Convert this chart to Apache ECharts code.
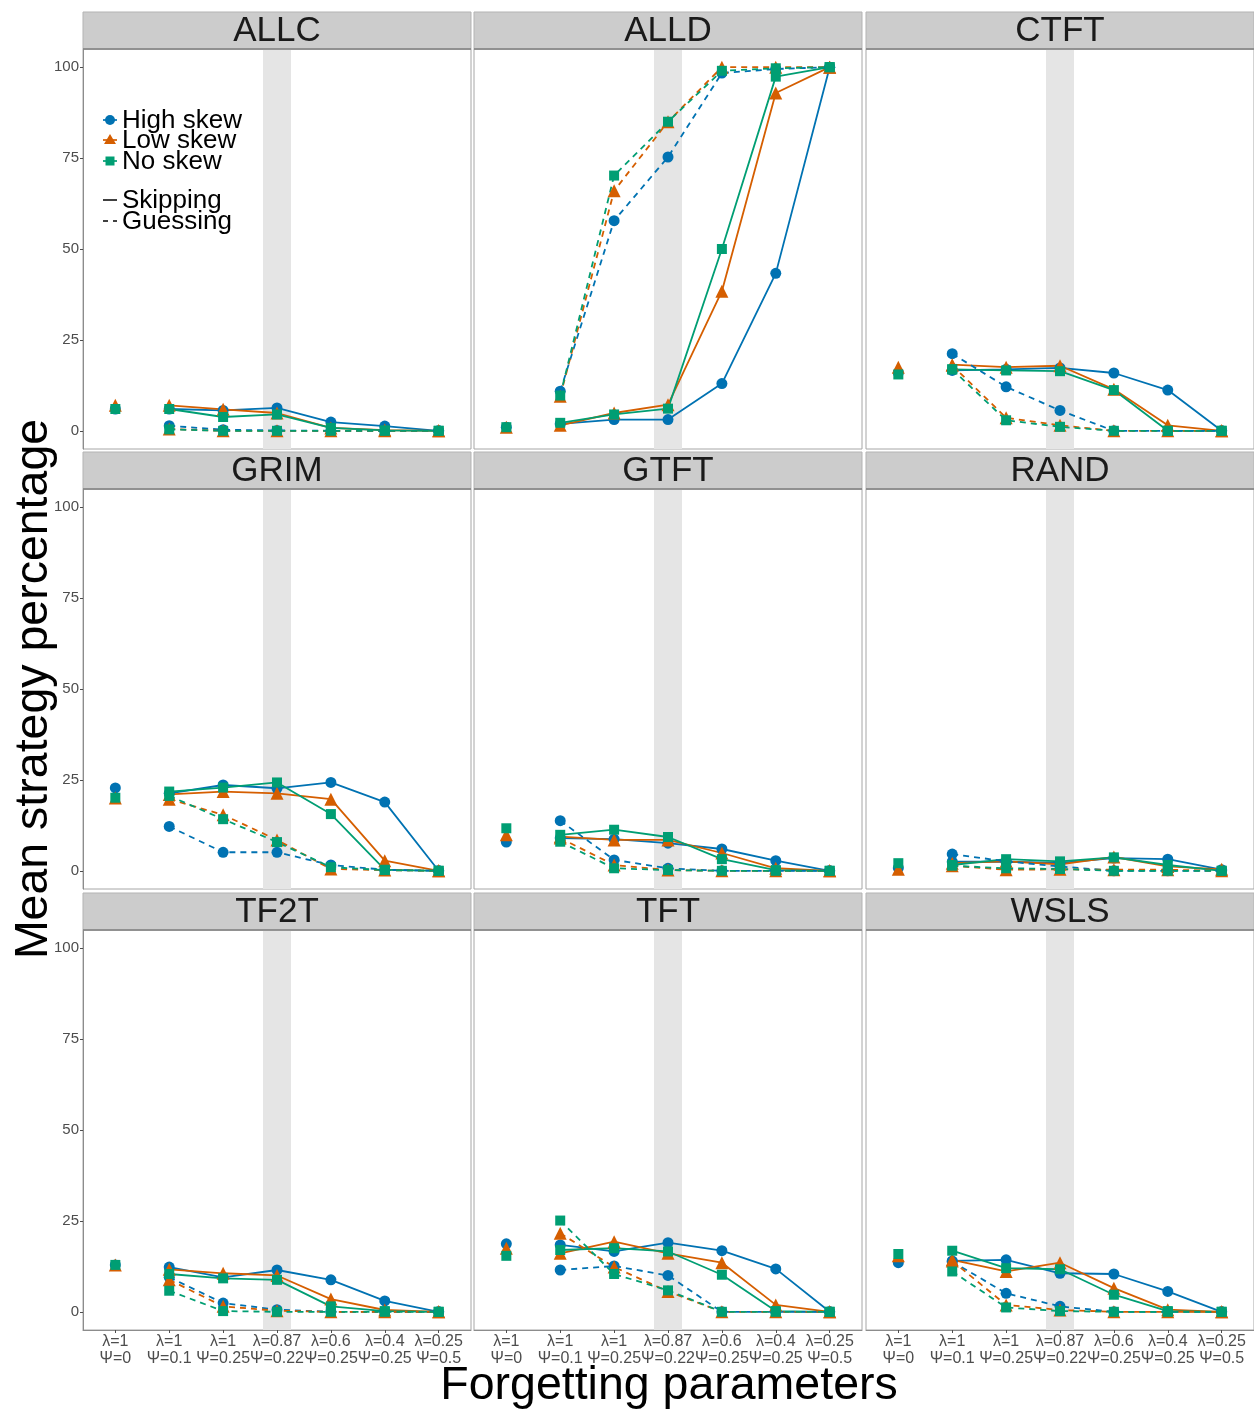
<!DOCTYPE html>
<html>
<head>
<meta charset="utf-8">
<script src="https://cdn.jsdelivr.net/npm/echarts@6/dist/echarts.min.js"></script>
<style>html,body{margin:0;padding:0;background:#fff}#chart{width:1254px;height:1409px}</style>
</head>
<body>
<div id="chart"></div>
<script>
// ---- categories / labels ----
const xLabels = ['λ=1\nΨ=0', 'λ=1\nΨ=0.1', 'λ=1\nΨ=0.25', 'λ=0.87\nΨ=0.22', 'λ=0.6\nΨ=0.25', 'λ=0.4\nΨ=0.25', 'λ=0.25\nΨ=0.5'];
const strategies = ['ALLC', 'ALLD', 'CTFT', 'GRIM', 'GTFT', 'RAND', 'TF2T', 'TFT', 'WSLS'];
const skews = ['High skew', 'Low skew', 'No skew'];
const yTicks = [0, 25, 50, 75, 100];

// ---- values: baseline (λ=1, Ψ=0) is [high, low, no]; other arrays cover x = 1..6 ----
const ALLC_base = [6, 7, 6];
const ALLC_skip_high = [6, 5.6, 6.3, 2.4, 1.3, 0];
const ALLC_skip_low = [7, 5.9, 4.9, 0.8, 0.2, 0];
const ALLC_skip_no = [6, 3.8, 4.5, 0.8, 0.1, 0];
const ALLC_guess_high = [1.4, 0.3, 0.1, 0, 0, 0];
const ALLC_guess_low = [0.5, 0, 0, 0, 0, 0];
const ALLC_guess_no = [0.4, 0, 0, 0, 0, 0];

const ALLD_base = [1, 1, 1];
const ALLD_skip_high = [1.9, 3.1, 3.1, 13, 43.3, 100];
const ALLD_skip_low = [1.5, 4.9, 7.2, 38.4, 92.9, 100];
const ALLD_skip_no = [2.2, 4.5, 6.1, 50, 97.4, 100];
const ALLD_guess_high = [10.9, 57.8, 75.3, 98.4, 99.5, 100];
const ALLD_guess_low = [9.5, 66, 85, 100, 100, 100];
const ALLD_guess_no = [9.7, 70.2, 85, 99, 99.7, 100];

const CTFT_base = [16, 17.5, 15.5];
const CTFT_skip_high = [16.6, 16.9, 17.3, 15.9, 11.2, 0];
const CTFT_skip_low = [18.2, 17.5, 17.9, 11.4, 1.5, 0];
const CTFT_skip_no = [16.9, 16.6, 16.4, 11.2, 0, 0];
const CTFT_guess_high = [21.2, 12.1, 5.6, 0, 0, 0];
const CTFT_guess_low = [18, 3.6, 1.5, 0, 0, 0];
const CTFT_guess_no = [16.9, 2.9, 1.1, 0, 0, 0];

const GRIM_base = [22.8, 20, 20.1];
const GRIM_skip_high = [21.3, 23.6, 22.7, 24.3, 18.9, 0];
const GRIM_skip_low = [21, 21.8, 21.3, 19.7, 2.8, 0];
const GRIM_skip_no = [21.8, 22.9, 24.3, 15.6, 0.3, 0];
const GRIM_guess_high = [12.2, 5.1, 5.1, 1.6, 0.3, 0];
const GRIM_guess_low = [19.7, 15.4, 8.5, 0.5, 0.2, 0];
const GRIM_guess_no = [20.6, 14.2, 7.9, 1, 0.2, 0];

const GTFT_base = [7.9, 9.9, 11.7];
const GTFT_skip_high = [9, 8.7, 7.6, 6, 2.8, 0];
const GTFT_skip_low = [9.4, 8.5, 8.5, 4.9, 0.7, 0];
const GTFT_skip_no = [9.9, 11.3, 9.3, 3.2, 0.2, 0];
const GTFT_guess_high = [13.8, 3, 0.7, 0, 0, 0];
const GTFT_guess_low = [9, 1.6, 0.2, 0, 0, 0];
const GTFT_guess_no = [8, 0.7, 0.2, 0, 0, 0];

const RAND_base = [0.8, 0.4, 2.1];
const RAND_skip_high = [2.5, 2.5, 2.2, 3.5, 3.2, 0.3];
const RAND_skip_low = [2.1, 2.6, 1.8, 3.8, 1.2, 0.4];
const RAND_skip_no = [1.6, 3.2, 2.6, 3.7, 1.6, 0];
const RAND_guess_high = [4.6, 2.6, 1.2, 0, 0, 0];
const RAND_guess_low = [1.4, 0.3, 0.4, 0.3, 0.3, 0];
const RAND_guess_no = [1.4, 0.7, 0.5, 0, 0, 0];

const TF2T_base = [12.9, 12.9, 12.9];
const TF2T_skip_high = [12.3, 9.5, 11.5, 8.8, 3, 0];
const TF2T_skip_low = [11.7, 10.6, 10, 3.5, 0.5, 0];
const TF2T_skip_no = [10.4, 9.2, 8.8, 1.5, 0.2, 0];
const TF2T_guess_high = [9.5, 2.4, 0.6, 0, 0, 0];
const TF2T_guess_low = [8.8, 1.5, 0.3, 0, 0, 0];
const TF2T_guess_no = [5.8, 0.2, 0, 0, 0, 0];

const TFT_base = [18.7, 17.5, 15.4];
const TFT_skip_high = [18.4, 16.6, 19, 16.8, 11.8, 0];
const TFT_skip_low = [16.1, 19.3, 16.1, 13.5, 1.9, 0];
const TFT_skip_no = [17, 17.5, 16.6, 10.2, 0.2, 0];
const TFT_guess_high = [11.5, 12.6, 10, 0, 0, 0];
const TFT_guess_low = [21.6, 12.3, 5.6, 0, 0, 0];
const TFT_guess_no = [25.1, 10.4, 5.9, 0, 0, 0];

const WSLS_base = [13.5, 15.4, 15.9];
const WSLS_skip_high = [14, 14.3, 10.6, 10.4, 5.6, 0];
const WSLS_skip_low = [14.3, 11.1, 13.5, 6.5, 0.6, 0];
const WSLS_skip_no = [16.8, 12, 11.7, 4.7, 0.2, 0];
const WSLS_guess_high = [13.8, 5.1, 1.5, 0, 0, 0];
const WSLS_guess_low = [14, 1.9, 0.5, 0, 0, 0];
const WSLS_guess_no = [11.1, 1.2, 0.2, 0, 0, 0];

// ---- table built from the arrays ----
const table = {
  ALLC: {base: ALLC_base, skip: [ALLC_skip_high, ALLC_skip_low, ALLC_skip_no], guess: [ALLC_guess_high, ALLC_guess_low, ALLC_guess_no]},
  ALLD: {base: ALLD_base, skip: [ALLD_skip_high, ALLD_skip_low, ALLD_skip_no], guess: [ALLD_guess_high, ALLD_guess_low, ALLD_guess_no]},
  CTFT: {base: CTFT_base, skip: [CTFT_skip_high, CTFT_skip_low, CTFT_skip_no], guess: [CTFT_guess_high, CTFT_guess_low, CTFT_guess_no]},
  GRIM: {base: GRIM_base, skip: [GRIM_skip_high, GRIM_skip_low, GRIM_skip_no], guess: [GRIM_guess_high, GRIM_guess_low, GRIM_guess_no]},
  GTFT: {base: GTFT_base, skip: [GTFT_skip_high, GTFT_skip_low, GTFT_skip_no], guess: [GTFT_guess_high, GTFT_guess_low, GTFT_guess_no]},
  RAND: {base: RAND_base, skip: [RAND_skip_high, RAND_skip_low, RAND_skip_no], guess: [RAND_guess_high, RAND_guess_low, RAND_guess_no]},
  TF2T: {base: TF2T_base, skip: [TF2T_skip_high, TF2T_skip_low, TF2T_skip_no], guess: [TF2T_guess_high, TF2T_guess_low, TF2T_guess_no]},
  TFT:  {base: TFT_base,  skip: [TFT_skip_high,  TFT_skip_low,  TFT_skip_no],  guess: [TFT_guess_high,  TFT_guess_low,  TFT_guess_no]},
  WSLS: {base: WSLS_base, skip: [WSLS_skip_high, WSLS_skip_low, WSLS_skip_no], guess: [WSLS_guess_high, WSLS_guess_low, WSLS_guess_no]}
};

// ---- styles / layout ----
const colors = ['#0072B2', '#D55E00', '#009E73'];
const symbols = ['circle', 'triangle', 'rect'];
const symSizes = [11, 13, 10];
const FONT = '"Liberation Sans", Arial, Helvetica, sans-serif';
const colLeft = [83, 474, 866];
const rowTop = [12, 452, 893];
const panelW = 388, stripH = 37, plotH = 400;

const grids = [], xAxes = [], yAxes = [], series = [], graphics = [];

strategies.forEach((name, i) => {
  const r = Math.floor(i / 3), c = i % 3;
  const d = table[name];
  grids.push({
    left: colLeft[c], top: rowTop[r] + stripH, width: panelW, height: plotH,
    show: true, borderColor: '#a6a6a6', borderWidth: 1, backgroundColor: '#fff'
  });
  xAxes.push({
    type: 'value', gridIndex: i, min: -0.6, max: 6.6,
    splitLine: {show: false},
    axisLine: {show: r === 2, onZero: false, lineStyle: {color: '#8c8c8c', width: 1}},
    axisTick: {show: r === 2, customValues: [0, 1, 2, 3, 4, 5, 6], length: 3, lineStyle: {color: '#4d4d4d'}},
    axisLabel: {
      show: r === 2, customValues: [0, 1, 2, 3, 4, 5, 6],
      formatter: v => xLabels[Math.round(v)], color: '#4d4d4d', fontSize: 16, lineHeight: 17,
      fontFamily: FONT, margin: 3
    }
  });
  yAxes.push({
    type: 'value', gridIndex: i, min: -5, max: 105,
    splitLine: {show: false},
    axisLine: {show: c === 0, onZero: false, lineStyle: {color: '#8c8c8c', width: 1}},
    axisTick: {show: c === 0, customValues: yTicks, length: 3, lineStyle: {color: '#4d4d4d'}},
    axisLabel: {show: c === 0, customValues: yTicks, color: '#4d4d4d', fontSize: 15, fontFamily: FONT, margin: 4}
  });
  // shaded band around λ=0.87
  series.push({
    type: 'line', xAxisIndex: i, yAxisIndex: i, data: [], silent: true, z: 1,
    markArea: {silent: true, itemStyle: {color: '#e5e5e5'}, data: [[{xAxis: 2.74}, {xAxis: 3.26}]]}
  });
  // lines
  ['skip', 'guess'].forEach(mode => {
    d[mode].forEach((arr, k) => {
      series.push({
        type: 'line', xAxisIndex: i, yAxisIndex: i, z: 3, silent: true,
        symbol: 'none', animation: false,
        data: arr.map((v, j) => [j + 1, v]),
        lineStyle: {color: colors[k], width: 1.8, type: mode === 'skip' ? 'solid' : [6, 5]}
      });
    });
  });
  // points (drawn above all lines)
  [0, 1, 2].forEach(k => {
    const pts = [[0, d.base[k]]]
      .concat(d.skip[k].map((v, j) => [j + 1, v]))
      .concat(d.guess[k].map((v, j) => [j + 1, v]));
    series.push({
      type: 'scatter', xAxisIndex: i, yAxisIndex: i, z: 4 + k, silent: true, animation: false,
      symbol: symbols[k], symbolSize: symSizes[k],
      itemStyle: {color: colors[k], opacity: 1},
      data: pts
    });
  });
  // strip header
  graphics.push({
    type: 'rect', shape: {x: colLeft[c], y: rowTop[r], width: panelW, height: stripH},
    style: {fill: '#cccccc', stroke: '#b3b3b3', lineWidth: 1}, z: 10
  });
  graphics.push({
    type: 'line', shape: {x1: colLeft[c], y1: rowTop[r] + stripH, x2: colLeft[c] + panelW, y2: rowTop[r] + stripH},
    style: {stroke: '#808080', lineWidth: 1.5}, z: 11
  });
  graphics.push({
    type: 'text', x: colLeft[c] + panelW / 2, y: rowTop[r] + stripH / 2 + 1, z: 12,
    style: {text: name, font: '35px ' + FONT, fill: '#1a1a1a', align: 'center', verticalAlign: 'middle'}
  });
});

// axis titles
graphics.push({
  type: 'text', x: 34, y: 689, rotation: Math.PI / 2, z: 12,
  style: {text: 'Mean strategy percentage', font: '46.5px ' + FONT, fill: '#000', align: 'center', verticalAlign: 'middle'}
});
graphics.push({
  type: 'text', x: 669, y: 1386, z: 12,
  style: {text: 'Forgetting parameters', font: '46.5px ' + FONT, fill: '#000', align: 'center', verticalAlign: 'middle'}
});

// legend inside first panel
const legY = [120, 140, 161];
skews.forEach((s, k) => {
  graphics.push({type: 'line', shape: {x1: 103, y1: legY[k], x2: 117, y2: legY[k]}, style: {stroke: colors[k], lineWidth: 1.7}, z: 20});
  if (k === 0) graphics.push({type: 'circle', shape: {cx: 110, cy: legY[k], r: 5}, style: {fill: colors[k]}, z: 21});
  if (k === 1) graphics.push({type: 'polygon', shape: {points: [[110, legY[k] - 6], [116, legY[k] + 4], [104, legY[k] + 4]]}, style: {fill: colors[k]}, z: 21});
  if (k === 2) graphics.push({type: 'rect', shape: {x: 105.5, y: legY[k] - 4.5, width: 9, height: 9}, style: {fill: colors[k]}, z: 21});
  graphics.push({type: 'text', x: 122, y: legY[k] + 1, z: 21, style: {text: s, font: '26px ' + FONT, fill: '#000', align: 'left', verticalAlign: 'middle'}});
});
graphics.push({type: 'line', shape: {x1: 103, y1: 200, x2: 117, y2: 200}, style: {stroke: '#000', lineWidth: 1.5}, z: 20});
graphics.push({type: 'text', x: 122, y: 201, z: 21, style: {text: 'Skipping', font: '26px ' + FONT, fill: '#000', align: 'left', verticalAlign: 'middle'}});
graphics.push({type: 'line', shape: {x1: 103, y1: 221, x2: 108, y2: 221}, style: {stroke: '#000', lineWidth: 1.5}, z: 20});
graphics.push({type: 'line', shape: {x1: 113, y1: 221, x2: 117, y2: 221}, style: {stroke: '#000', lineWidth: 1.5}, z: 20});
graphics.push({type: 'text', x: 122, y: 222, z: 21, style: {text: 'Guessing', font: '26px ' + FONT, fill: '#000', align: 'left', verticalAlign: 'middle'}});

const chart = echarts.init(document.getElementById('chart'), null, {renderer: 'canvas'});
chart.setOption({
  animation: false,
  backgroundColor: '#ffffff',
  grid: grids, xAxis: xAxes, yAxis: yAxes, series: series, graphic: graphics
});
</script>
</body>
</html>
